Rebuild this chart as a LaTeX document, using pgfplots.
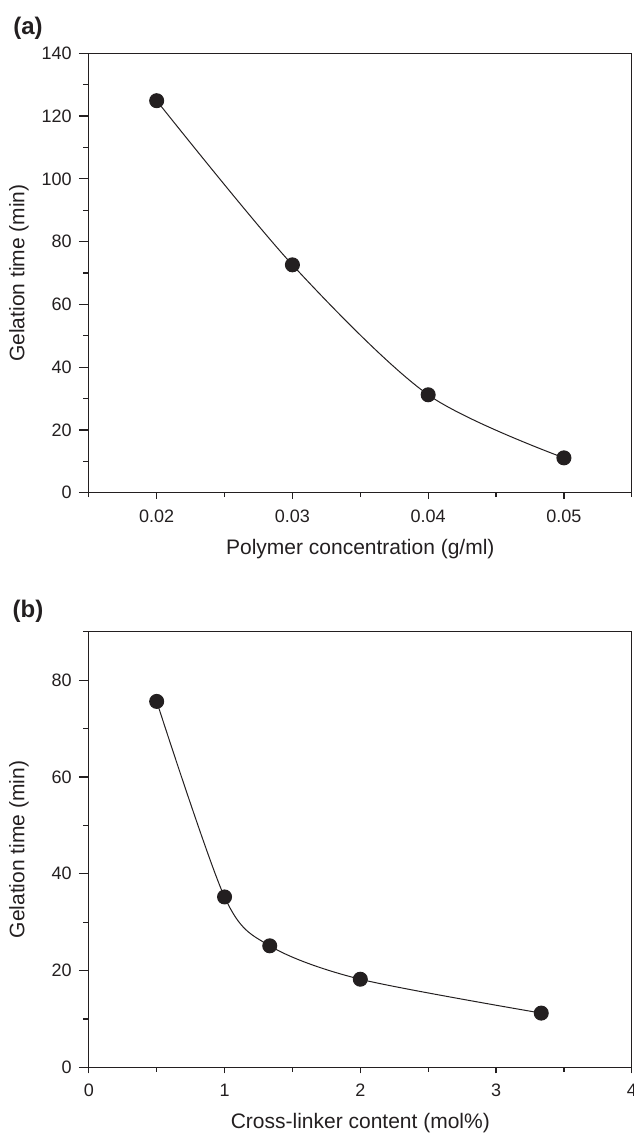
\documentclass[border=0pt]{standalone}
\usepackage{fontspec}
\setmainfont{Liberation Sans}
\usepackage{pgfplots}
\pgfplotsset{compat=1.18}
\definecolor{ink}{RGB}{35,31,32}

\pgfplotsset{
  gelstyle/.style={
    scale only axis, width=271.5pt,
    axis line style={ink, line width=0.65pt},
    tick style={ink, line width=0.6pt},
    tick align=outside,
    xtick pos=bottom, ytick pos=left,
    major tick length=5pt, minor tick length=2.8pt,
    xtick style={/pgfplots/major tick length=3pt, /pgfplots/minor tick length=2.2pt},
    scaled x ticks=false,
    tick label style={font=\fontsize{9}{10}\selectfont, text=ink},
    label style={font=\fontsize{10.5}{12}\selectfont, text=ink},
    /pgf/number format/assume math mode=true,
    xlabel style={at={(axis description cs:0.5,0)}, anchor=center, yshift=-28pt},
    ylabel style={at={(axis description cs:-0.1286,0.5)}, anchor=center},
  },
  gelline/.style={ink, line width=0.5pt, smooth, mark=*, mark size=3.5pt,
    mark options={fill=ink, draw=ink}},
}

\begin{document}
\begin{tikzpicture}
\useasboundingbox (0,0) rectangle (316.5pt,-567.5pt);

% (a) polymer concentration
\begin{axis}[gelstyle, height=219.7pt,
  at={(44.4pt,-246.35pt)}, anchor=south west,
  xmin=0.015, xmax=0.055, ymin=0, ymax=140,
  xtick={0.02,0.03,0.04,0.05}, xticklabels={0.02,0.03,0.04,0.05},
  minor xtick={0.015,0.025,0.035,0.045,0.055},
  ytick={0,20,...,140}, minor ytick={10,30,...,130},
  xlabel={Polymer concentration (g/ml)},
  ylabel={Gelation time (min)},
]
\addplot[gelline] coordinates {(0.02,124.9) (0.03,72.6) (0.04,31.2) (0.05,11.1)};
\end{axis}

% (b) cross-linker content
\begin{axis}[gelstyle, height=217.8pt,
  at={(44.4pt,-533.65pt)}, anchor=south west,
  xmin=0, xmax=4, ymin=0, ymax=90,
  xtick={0,1,2,3,4}, minor xtick={0.5,1.5,2.5,3.5},
  ytick={0,20,...,80}, minor ytick={10,30,...,90},
  xlabel={Cross-linker content (mol\%)},
  ylabel={Gelation time (min)},
]
\addplot[gelline] coordinates {(0.5,75.6) (1,35.2) (1.333,25.1) (2,18.2) (3.333,11.2)};
\end{axis}

\node[font=\bfseries\fontsize{12}{13}\selectfont, text=ink] at (14pt,-14pt) {(a)};
\node[font=\bfseries\fontsize{12}{13}\selectfont, text=ink] at (14pt,-305.5pt) {(b)};
\end{tikzpicture}
\end{document}
